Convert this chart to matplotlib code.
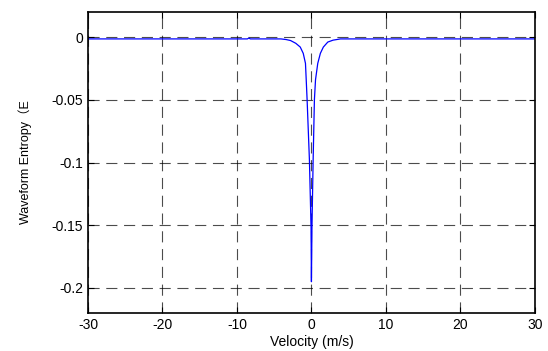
import matplotlib
matplotlib.use('Agg')
import matplotlib.pyplot as plt

# velocity samples (m/s) and waveform entropy
velocity = [-30, -8.6, -8.4, -8.2, -4.1, -3.4, -2.8, -2.1, -1.5, -1.1, -0.8, -0.7, -0.58, -0.27, -0.05, 0.0,
            0.07, 0.23, 0.4, 0.55, 0.85, 1.2, 1.6, 2.2, 2.9, 3.9, 30]
entropy = [-0.0015, -0.0015, -0.0008, -0.0015, -0.0015, -0.002, -0.0028, -0.005, -0.008, -0.013, -0.021, -0.034,
           -0.05, -0.098, -0.152, -0.195,
           -0.152, -0.098, -0.05, -0.034, -0.021, -0.013, -0.008, -0.004, -0.0025, -0.0015, -0.0015]

xticks = [-30, -20, -10, 0, 10, 20, 30]
yticks = [0, -0.05, -0.1, -0.15, -0.2]
yticklabels = ['0', '-0.05', '-0.1', '-0.15', '-0.2']

plt.rcParams['font.family'] = ['Liberation Sans', 'Noto Sans CJK SC', 'DejaVu Sans']

fig = plt.figure(figsize=(5.48, 3.51), dpi=100)
ax = fig.add_axes([0.1606, 0.108, 0.8154, 0.858])

ax.plot(velocity, entropy, color='#0000ff', lw=0.9)

ax.set_xlim(-30, 30)
ax.set_ylim(-0.22, 0.02)
ax.set_xticks(xticks)
ax.set_xticklabels([str(t) for t in xticks])
ax.set_yticks(yticks)
ax.set_yticklabels(yticklabels)
ax.tick_params(direction='in', top=True, right=True, labelsize=10, length=4, width=0.8)
ax.grid(True, color='black', linestyle=(0, (10, 6)), lw=0.8, alpha=0.7)
for s in ax.spines.values():
    s.set_linewidth(1.2)

ax.set_xlabel('Velocity (m/s)', fontsize=10, labelpad=2)
ax.set_ylabel('Waveform Entropy（E', fontsize=9, labelpad=14)

fig.savefig('out.png', dpi=100)
